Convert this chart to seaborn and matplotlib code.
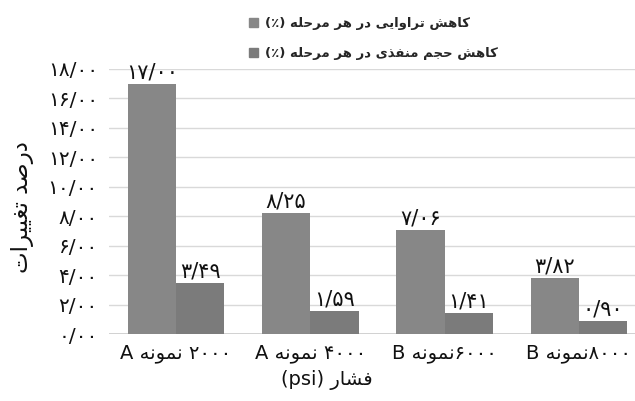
import pandas as pd
import matplotlib
matplotlib.use("Agg")
import matplotlib.pyplot as plt
import seaborn as sns
from matplotlib.patches import Patch
from matplotlib.ticker import FuncFormatter

# داده‌ها
samples = ['A', 'A', 'B', 'B']
pressures = ['2000', '4000', '6000', '8000']
series = ['کاهش تراوایی در هر مرحله', 'کاهش حجم منفذی در هر مرحله']
perm_loss = [17.00, 8.25, 7.06, 3.82]
pore_loss = [3.49, 1.59, 1.41, 0.90]
y_ticks = [0, 2, 4, 6, 8, 10, 12, 14, 16, 18]
colors = ['#878787', '#7b7b7b']

# شکل‌دهی ساده حروف فارسی (matplotlib متن راست‌به‌چپ را شکل نمی‌دهد)
FORMS = {
    'ا': ('\uFE8D', '\uFE8E', None, None),
    'ت': ('\uFE95', '\uFE96', '\uFE97', '\uFE98'),
    'ج': ('\uFE9D', '\uFE9E', '\uFE9F', '\uFEA0'),
    'ح': ('\uFEA1', '\uFEA2', '\uFEA3', '\uFEA4'),
    'د': ('\uFEA9', '\uFEAA', None, None),
    'ذ': ('\uFEAB', '\uFEAC', None, None),
    'ر': ('\uFEAD', '\uFEAE', None, None),
    'ش': ('\uFEB5', '\uFEB6', '\uFEB7', '\uFEB8'),
    'ص': ('\uFEB9', '\uFEBA', '\uFEBB', '\uFEBC'),
    'غ': ('\uFECD', '\uFECE', '\uFECF', '\uFED0'),
    'ف': ('\uFED1', '\uFED2', '\uFED3', '\uFED4'),
    'ل': ('\uFEDD', '\uFEDE', '\uFEDF', '\uFEE0'),
    'م': ('\uFEE1', '\uFEE2', '\uFEE3', '\uFEE4'),
    'ن': ('\uFEE5', '\uFEE6', '\uFEE7', '\uFEE8'),
    'ه': ('\uFEE9', '\uFEEA', '\uFEEB', '\uFEEC'),
    'و': ('\uFEED', '\uFEEE', None, None),
    'ک': ('\uFB8E', '\uFB8F', '\uFB90', '\uFB91'),
    'ی': ('\uFBFC', '\uFBFD', '\uFBFE', '\uFBFF'),
}


def rtl(text):
    out = []
    for i, c in enumerate(text):
        if c not in FORMS:
            out.append(c)
            continue
        prev = text[i - 1] if i > 0 else None
        nxt = text[i + 1] if i + 1 < len(text) else None
        jp = prev in FORMS and FORMS[prev][2] is not None
        jn = FORMS[c][2] is not None and nxt in FORMS
        f = FORMS[c]
        out.append(f[3] if jp and jn else f[1] if jp else f[2] if jn else f[0])
    return ''.join(out)[::-1]


def fa_digits(s):
    return s.translate(str.maketrans('0123456789.', '۰۱۲۳۴۵۶۷۸۹/'))


cats = []
for i, (s, p) in enumerate(zip(samples, pressures)):
    sep = ' ' if i < 2 else ''
    cats.append(s + ' ' + rtl('نمونه') + sep + fa_digits(p))

df = pd.DataFrame({
    'cat': cats * 2,
    'series': [series[0]] * 4 + [series[1]] * 4,
    'value': perm_loss + pore_loss,
})

sns.set_theme(style="white")
plt.rcParams['font.family'] = ['DejaVu Sans']

fig = plt.figure(figsize=(6.35, 4.01), dpi=100)
ax = fig.add_axes([109 / 635, 67 / 401, 537 / 635, 265 / 401])

sns.barplot(data=df, x='cat', y='value', hue='series', palette=colors,
            width=0.72, ax=ax, legend=False, saturation=1, linewidth=0)

ax.set_ylim(0, 18)
ax.set_yticks(y_ticks)
ax.yaxis.set_major_formatter(FuncFormatter(lambda v, p: fa_digits(f'{v:.2f}')))
ax.grid(axis='y', color='#d9d9d9', linewidth=1)
ax.set_axisbelow(True)
for sp in ax.spines.values():
    sp.set_visible(False)
ax.axhline(0, color='#c8c8c8', linewidth=1.2, zorder=0.5)
ax.tick_params(length=0, colors='#111111')
ax.tick_params(axis='y', pad=8, labelsize=14.5)
ax.tick_params(axis='x', pad=7, labelsize=14)
ax.set_xlabel('')
ax.set_ylabel('')

for cont, vals in zip(ax.containers, [perm_loss, pore_loss]):
    ax.bar_label(cont, labels=[fa_digits(f'{v:.2f}') for v in vals],
                 padding=1, fontsize=15, color='#111111')

handles = [Patch(color=c) for c in colors]
labels = ['(٪) ' + rtl(s) for s in series]
fig.legend(handles, labels, loc='upper left', bbox_to_anchor=(237 / 635, 1 - 5 / 401),
           frameon=False, handlelength=0.7, handleheight=0.7,
           handletextpad=0.5, labelspacing=1.3,
           prop={'weight': 'bold', 'size': 9.5})

fig.text(22 / 635, 1 - 207 / 401, rtl('درصد تغییرات'), rotation=90,
         ha='center', va='center', fontsize=16.5, color='#111111')
fig.text(327 / 635, 1 - 380 / 401, '(psi) ' + rtl('فشار'),
         ha='center', va='center', fontsize=14, color='#111111')

fig.savefig('out.png', dpi=100)
